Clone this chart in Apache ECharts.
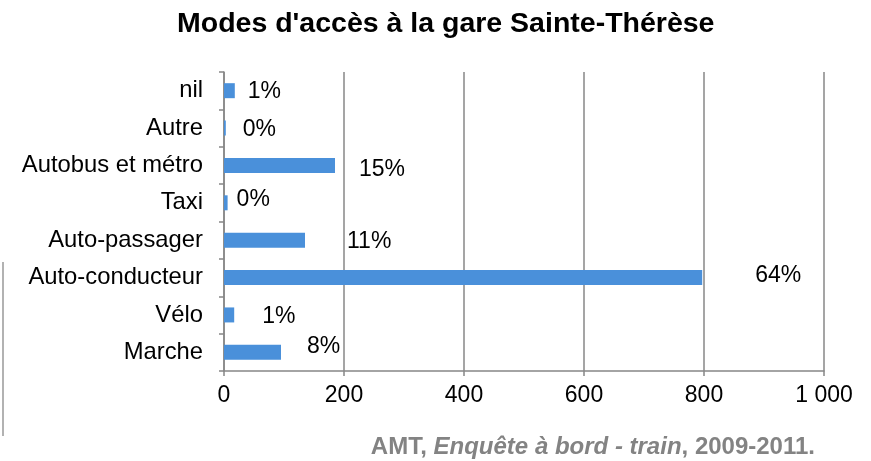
<!DOCTYPE html>
<html><head><meta charset="utf-8">
<script src="https://cdn.jsdelivr.net/npm/echarts@6/dist/echarts.min.js"></script>
<style>html,body{margin:0;padding:0;background:#fff}#c{width:871px;height:461px}</style>
</head><body><div id="c"></div>
<script>
var categories = ['nil', 'Autre', 'Autobus et métro', 'Taxi', 'Auto-passager', 'Auto-conducteur', 'Vélo', 'Marche'];
var values = [18, 3, 185, 6, 135, 797, 17, 95];
var pctLabels = ['1%', '0%', '15%', '0%', '11%', '64%', '1%', '8%'];
var xTicks = [0, 200, 400, 600, 800, 1000];
var labelOffsets = [[8, 1], [12, 2], [19, 4.5], [4, -3], [37, 1.5], [48, -2], [23, 2], [21, -5.5]];

var FONT = '"Liberation Sans", Arial, sans-serif';
var chart = echarts.init(document.getElementById('c'), null, {renderer: 'canvas'});
var data = values.map(function (v, i) {
  return {
    value: v,
    label: {show: true, position: 'right', distance: 5, offset: labelOffsets[i],
      formatter: pctLabels[i], color: '#000', fontSize: 23, fontFamily: FONT}
  };
});
chart.setOption({
  animation: false,
  backgroundColor: '#fff',
  title: {
    text: "Modes d'accès à la gare Sainte-Thérèse",
    left: 172, top: 5,
    textStyle: {fontFamily: FONT, fontWeight: 'bold', fontSize: 28.5, color: '#000'}
  },
  grid: {left: 224, right: 47, top: 72, bottom: 90, containLabel: false},
  xAxis: {
    type: 'value', min: xTicks[0], max: xTicks[xTicks.length - 1], interval: xTicks[1] - xTicks[0],
    axisLine: {show: true, lineStyle: {color: '#878787', width: 1.5}},
    axisTick: {show: true, length: 5, lineStyle: {color: '#878787', width: 1.5}},
    splitLine: {show: true, lineStyle: {color: '#878787', width: 1.5}},
    axisLabel: {
      margin: 13, color: '#000', fontSize: 23, fontFamily: FONT,
      formatter: function (v) {
        var s = String(v);
        return s.length > 3 ? s.slice(0, s.length - 3) + ' ' + s.slice(-3) : s;
      }
    }
  },
  yAxis: {
    type: 'category', data: categories, inverse: true,
    axisLine: {show: true, lineStyle: {color: '#878787', width: 1.5}},
    axisTick: {show: true, length: 5, alignWithLabel: false, lineStyle: {color: '#878787', width: 1.5}},
    axisLabel: {margin: 21, color: '#000', fontSize: 23.8, fontFamily: FONT},
    splitLine: {show: false}
  },
  series: [{
    type: 'bar', data: data, barWidth: 15,
    itemStyle: {color: '#4a90da'}
  }],
  graphic: [
    {type: 'line', shape: {x1: 3, y1: 262, x2: 3, y2: 436}, style: {stroke: '#999', lineWidth: 1.5}},
    {
      type: 'text', right: 56, top: 435,
      style: {
        text: '{b|AMT, }{i|Enquête à bord - train}{b|, 2009-2011.}',
        rich: {
          b: {fontFamily: FONT, fontWeight: 'bold', fontSize: 24, fill: '#838383'},
          i: {fontFamily: FONT, fontWeight: 'bold', fontStyle: 'italic', fontSize: 24, fill: '#838383'}
        }
      }
    }
  ]
});
</script></body></html>
